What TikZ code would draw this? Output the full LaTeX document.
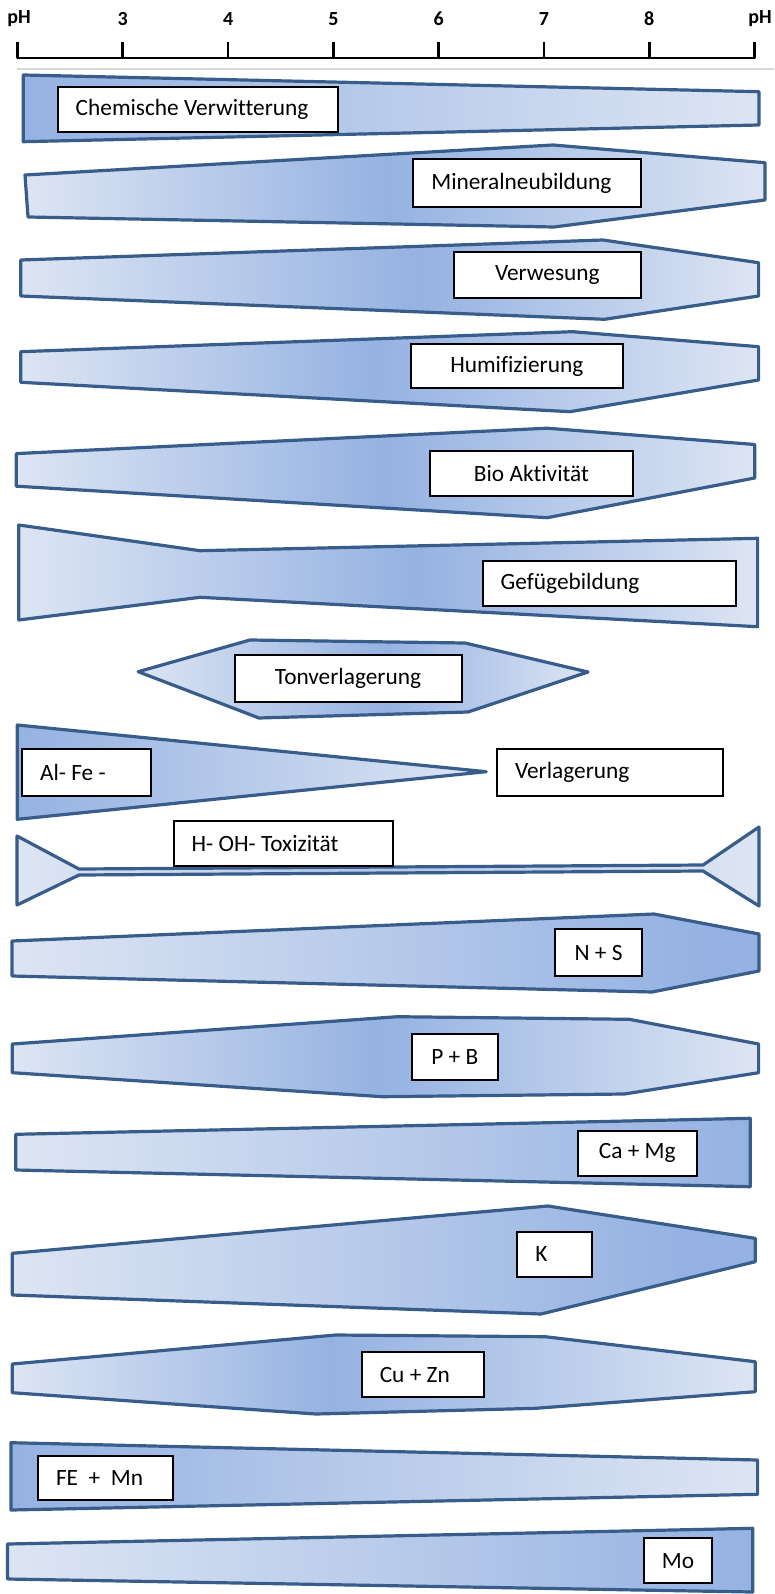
\documentclass[tikz,border=0pt]{standalone}
\usepackage{fontspec}
\setmainfont[Ligatures=NoCommon]{Carlito}
\definecolor{lb}{RGB}{221,229,243}
\definecolor{db}{RGB}{149,178,226}
\definecolor{ol}{RGB}{56,93,138}
\definecolor{sep}{RGB}{217,217,217}
\pgfdeclarehorizontalshading{shL}{100bp}{color(0bp)=(db); color(25bp)=(db); color(75bp)=(lb); color(100bp)=(lb)}
\pgfdeclarehorizontalshading{shR}{100bp}{color(0bp)=(lb); color(25bp)=(lb); color(75bp)=(db); color(100bp)=(db)}
\pgfdeclarehorizontalshading{shNS}{100bp}{color(0bp)=(lb); color(25bp)=(lb); color(71bp)=(db); color(75bp)=(db); color(100bp)=(db)}
\pgfdeclarehorizontalshading{shK}{100bp}{color(0bp)=(lb); color(25bp)=(lb); color(70bp)=(db); color(75bp)=(db); color(100bp)=(db)}
\pgfdeclarehorizontalshading{shH}{100bp}{color(0bp)=(lb); color(25bp)=(lb); color(50bp)=(db!60!lb); color(75bp)=(lb); color(100bp)=(lb)}
\newcommand{\midshade}[2]{\pgfdeclarehorizontalshading{#1}{100bp}{color(0bp)=(lb); color(25bp)=(lb); color(#2bp)=(db); color(75bp)=(lb); color(100bp)=(lb)}}
\midshade{shMin}{49.5}
\midshade{shVer}{52}
\midshade{shHum}{49}
\midshade{shBio}{50}
\midshade{shGef}{52}
\midshade{shTon}{52.5}
\midshade{shPB}{49.5}
\midshade{shCu}{46.5}
% centred label box
\newcommand{\lboxc}[6]{%
  \pgfmathsetmacro\lbw{(#4-#2)*0.75}%
  \pgfmathsetmacro\lbh{(#5-#3)*0.75}%
  \node[lbl, minimum width=\lbw pt, minimum height=\lbh pt] (#1) at ({(#2+#4)/2},{(#3+#5)/2}) {#6};}
% left aligned label box, padding 18px
\newcommand{\lboxl}[6]{%
  \pgfmathsetmacro\lbw{(#4-#2)*0.75}%
  \pgfmathsetmacro\lbh{(#5-#3)*0.75}%
  \pgfmathsetmacro\lbt{(#4-#2-36)*0.75}%
  \node[lbl, minimum width=\lbw pt, minimum height=\lbh pt] (#1) at ({(#2+#4)/2},{(#3+#5)/2}) {\makebox[\lbt pt][l]{#6}};}
\begin{document}
\begin{tikzpicture}[x=0.75pt,y=-0.75pt,
  band/.style={draw=ol, line width=2.4pt, line join=round, shade},
  lbl/.style={draw=black, line width=1.5pt, fill=white, inner sep=0pt, font=\fontsize{17.5}{20}\selectfont},
  axisline/.style={draw=black, line width=2pt},
  axlab/.style={font=\fontsize{15}{17}\selectfont\bfseries, inner sep=0pt}]
\useasboundingbox (0,0) rectangle (774,1594);
% axis
\draw[axisline, line cap=round] (17.5,58) -- (754.6,58);
\foreach \i in {0,...,7} {\draw[axisline] ({17.5+105.3*\i},42) -- ({17.5+105.3*\i},58);}
\node[axlab] (phl) at (19,19) {pH};
\foreach \i/\t in {1/3,2/4,3/5,4/6,5/7,6/8} {\node[axlab] (t\t) at ({17.5+105.3*\i},19) {\t};}
\node[axlab] (phr) at (760,19) {pH};
\draw[sep, line width=1pt] (17,69) -- (774,69);
% bands
\draw[band, shading=shL] (23.3,75) -- (759,91.7) -- (759,125) -- (23.3,141.7) -- cycle;
\draw[band, shading=shMin] (25,175) -- (553,145) -- (765,162.7) -- (765,200) -- (554,227) -- (28,217) -- cycle;
\draw[band, shading=shVer] (20.7,260) -- (603,240) -- (758.6,262.7) -- (758.6,296) -- (604.6,319.3) -- (20.7,296) -- cycle;
\draw[band, shading=shHum] (20.7,351.7) -- (572.6,331.7) -- (758.6,346.7) -- (758.6,380) -- (570,411.7) -- (20.7,382.3) -- cycle;
\draw[band, shading=shBio] (16.3,453.6) -- (547.2,428.2) -- (754.7,444.5) -- (754.7,478) -- (547.2,517.7) -- (16.3,486.2) -- cycle;
\draw[band, shading=shGef] (18.8,525) -- (200,550.7) -- (757.6,538.3) -- (757.6,626.7) -- (200,597.3) -- (18.8,620) -- cycle;
\draw[band, shading=shTon] (138.2,671.7) -- (250,640) -- (465,643) -- (588,672) -- (468,712) -- (259,718) -- cycle;
\draw[band, shading=shL] (17.3,725) -- (486.2,771.7) -- (17.3,819.3) -- cycle;
\draw[band, shading=shH] (17,836) -- (79,869) -- (703,865) -- (759,827) -- (759,906) -- (703,871) -- (79,875) -- (17,905) -- cycle;
\draw[band, shading=shNS] (12,941) -- (654,914) -- (759,934) -- (759,971) -- (652,992) -- (12,976) -- cycle;
\draw[band, shading=shPB] (12.3,1044) -- (397.3,1016.7) -- (629.3,1019.3) -- (758.6,1044) -- (758.6,1072.7) -- (624.4,1094) -- (382.5,1096.7) -- (12.3,1072.7) -- cycle;
\draw[band, shading=shR] (15.8,1134.3) -- (750.2,1118.3) -- (750.2,1186.7) -- (15.8,1170) -- cycle;
\draw[band, shading=shK] (12.3,1253.3) -- (547.9,1206) -- (755.2,1238.3) -- (755.2,1261.7) -- (541,1314) -- (12.3,1295) -- cycle;
\draw[band, shading=shCu] (12.3,1364) -- (335.6,1335) -- (545.4,1336.7) -- (755.2,1361.7) -- (755.2,1391.7) -- (535.5,1408.3) -- (315.9,1414) -- (12.3,1392.7) -- cycle;
\draw[band, shading=shL] (10.9,1442.7) -- (757.6,1460) -- (757.6,1494.3) -- (10.9,1510) -- cycle;
\draw[band, shading=shR] (7.4,1544) -- (752.7,1528.3) -- (752.7,1592) -- (7.4,1579) -- cycle;
% labels
\lboxl{chem}{57.7}{86.7}{337.7}{131.7}{Chemische Verwitterung}
\lboxl{min}{413.3}{159.3}{641}{206.7}{Mineralneubildung}
\lboxc{verw}{454}{251.7}{640.7}{297.7}{Verwesung}
\lboxc{humi}{410.7}{344}{622.9}{388.3}{Humifizierung}
\lboxc{bio}{430.2}{450.6}{632.6}{496.3}{Bio Aktivität}
\lboxl{gef}{482.7}{560.7}{736.4}{606}{Gefügebildung}
\lboxc{ton}{234.5}{655}{461.5}{701.7}{Tonverlagerung}
\lboxl{alfe}{22}{749}{150.5}{795.7}{Al- Fe -}
\lboxl{verl}{497}{749}{723}{795.7}{Verlagerung}
\lboxl{hoh}{173.7}{821}{393.4}{866}{H- OH- Toxizität}
\lboxc{ns}{555}{929}{642}{976}{N + S}
\lboxc{pb}{412}{1034.3}{497.5}{1080}{P + B}
\lboxc{camg}{577.5}{1130.7}{697}{1175.7}{Ca + Mg}
\lboxl{k}{517.3}{1231.7}{592.3}{1277.3}{K}
\lboxl{cuzn}{361.8}{1351.7}{483.7}{1397.3}{Cu + Zn}
\lboxl{femn}{38}{1455.7}{172.8}{1500}{FE\ \ +\ \ Mn}
\lboxc{mo}{644}{1538.3}{712.2}{1583.3}{Mo}
\end{tikzpicture}
\end{document}
